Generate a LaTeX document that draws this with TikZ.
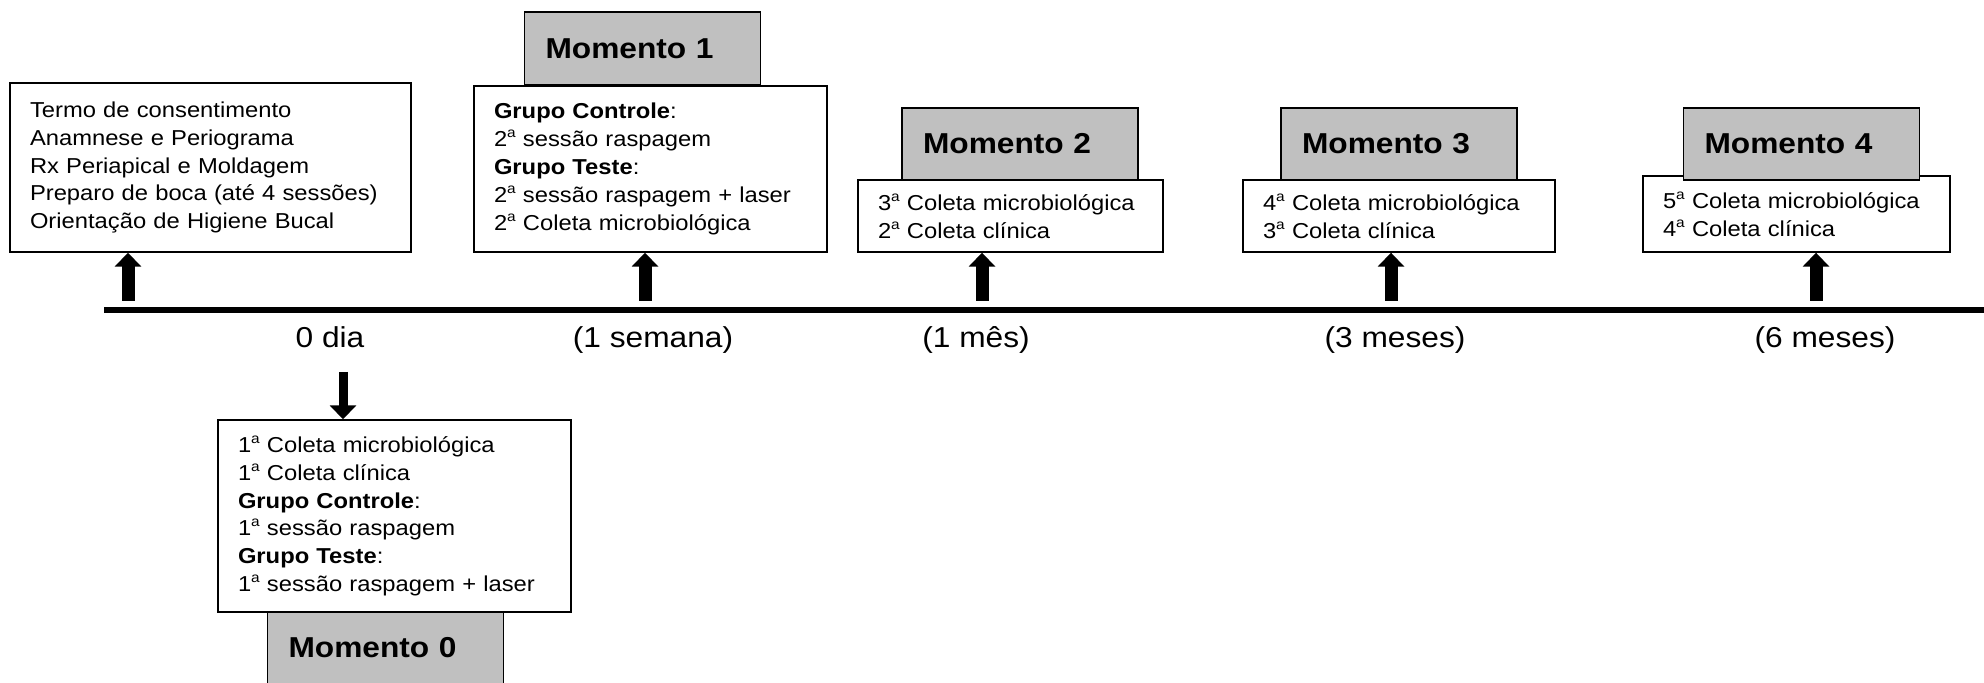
\documentclass[tikz,border=0pt]{standalone}
\usepackage{fontspec}
\setmainfont[FakeStretch=1.1]{Liberation Sans}
\usetikzlibrary{arrows.meta}
\definecolor{momgray}{RGB}{192,192,192}
\newcommand{\sa}{\raisebox{0.42em}{\fontsize{7}{7}\selectfont a}}
\begin{document}
\begin{tikzpicture}[x=0.5pt,y=-0.5pt,
  infobox/.style={draw,line width=0.7pt,fill=white,align=left,inner xsep=10pt,inner ysep=0pt,
    font=\fontsize{10.8}{13.9}\selectfont},
  momento/.style={draw,line width=0.7pt,fill=momgray,align=left,inner xsep=10.5pt,inner ysep=0pt,
    text width=97pt,minimum height=36pt,font=\fontsize{14.4}{17}\selectfont\bfseries},
  tlabel/.style={anchor=base,inner sep=0pt,font=\fontsize{14.4}{17}\selectfont},
  uparrow/.style={line width=6.5pt,-{Triangle[width=13pt,length=7pt]}},
  downarrow/.style={line width=4.5pt,-{Triangle[width=13pt,length=7pt]}},
  timeline/.style={line width=3pt}]
\useasboundingbox (0,0) rectangle (1984,683);
\clip (0,0) rectangle (1984,683);

% timeline
\coordinate (tl0) at (104,310);
\coordinate (tl1) at (1984,310);
\draw[timeline] (tl0) -- (tl1);

% boxes
\node[infobox,text width=180.5pt,minimum height=84.5pt] (A) at (210.5,167.5) {Termo de consentimento\\Anamnese e Periograma\\Rx Periapical e Moldagem\\Preparo de boca (até 4 sessões)\\Orientação de Higiene Bucal};
\node[infobox,text width=156.5pt,minimum height=83pt] (B) at (650.5,169) {\textbf{Grupo Controle}:\\2\sa{} sessão raspagem\\\textbf{Grupo Teste}:\\2\sa{} sessão raspagem + laser\\2\sa{} Coleta microbiológica};
\node[infobox,text width=132.5pt,minimum height=36pt] (C) at (1010.5,216) {3\sa{} Coleta microbiológica\\2\sa{} Coleta clínica};
\node[infobox,text width=136pt,minimum height=36pt] (D) at (1399,216) {4\sa{} Coleta microbiológica\\3\sa{} Coleta clínica};
\node[infobox,text width=133.5pt,minimum height=38pt] (E) at (1796.5,214) {5\sa{} Coleta microbiológica\\4\sa{} Coleta clínica};

% momento boxes
\node[momento,minimum height=36.5pt] (M1) at (642.5,48.5) {Momento 1};
\node[momento] (M2) at (1020,144) {Momento 2};
\node[momento] (M3) at (1399,144) {Momento 3};
\node[momento] (M4) at (1801.5,144) {Momento 4};
\node[momento] (M0) at (385.5,648) {Momento 0};

\node[infobox,text width=156.5pt,minimum height=96pt] (F) at (394.5,516) {1\sa{} Coleta microbiológica\\1\sa{} Coleta clínica\\\textbf{Grupo Controle}:\\1\sa{} sessão raspagem\\\textbf{Grupo Teste}:\\1\sa{} sessão raspagem + laser};

% arrows
\coordinate (a0) at (128,301);
\coordinate (a1) at (645,301);
\coordinate (a2) at (982,301);
\coordinate (a3) at (1391,301);
\coordinate (a4) at (1816,301);
\coordinate (d0) at (343,372);
\draw[uparrow] (a0) -- (a0 |- A.south);
\draw[uparrow] (a1) -- (a1 |- B.south);
\draw[uparrow] (a2) -- (a2 |- C.south);
\draw[uparrow] (a3) -- (a3 |- D.south);
\draw[uparrow] (a4) -- (a4 |- E.south);
\draw[downarrow] (d0) -- (d0 |- F.north);

% time labels
\node[tlabel] (l0) at (330,348) {0 dia};
\node[tlabel] (l1) at (653,348) {(1 semana)};
\node[tlabel] (l2) at (976,348) {(1 mês)};
\node[tlabel] (l3) at (1395,348) {(3 meses)};
\node[tlabel] (l4) at (1825,348) {(6 meses)};
\end{tikzpicture}
\end{document}
